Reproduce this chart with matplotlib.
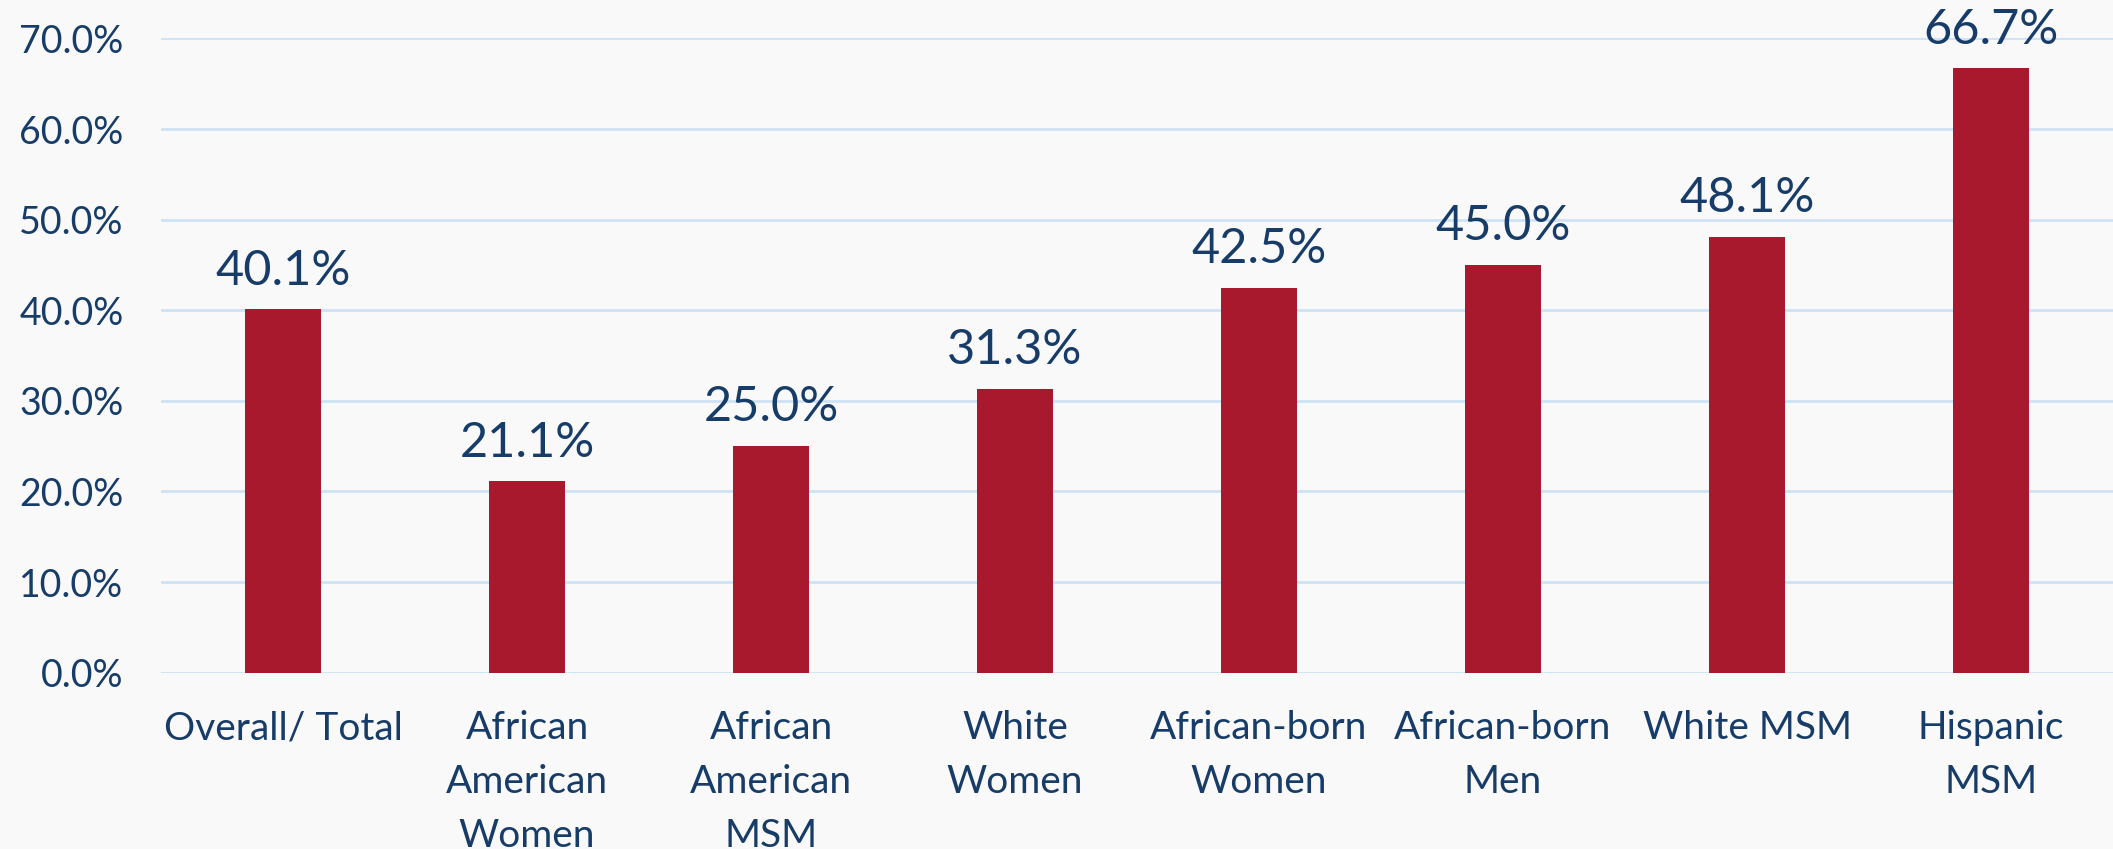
import numpy as np
import matplotlib.pyplot as plt

categorias = ["Overall/ Total", "African\nAmerican\nWomen", "African\nAmerican\nMSM",
              "White\nWomen", "African-born\nWomen", "African-born\nMen",
              "White MSM", "Hispanic\nMSM"]
valores = [40.1, 21.1, 25.0, 31.3, 42.5, 45.0, 48.1, 66.7]
yticks = [0, 10, 20, 30, 40, 50, 60, 70]

texto = "#173c68"
fondo = "#f9f9fa"

plt.rcParams['font.family'] = ['Lato', 'DejaVu Sans']

fig = plt.figure(figsize=(21.13, 8.49), dpi=100, facecolor=fondo)
ax = fig.add_axes([0.0762, 0.2077, 0.9238, 0.747])
ax.set_facecolor(fondo)

x = np.arange(len(categorias))
barras = ax.bar(x, valores, width=0.315, color="#a8192e", zorder=3)

for b, v in zip(barras, valores):
    ax.annotate(f"{v:.1f}%", (b.get_x() + b.get_width() / 2, v),
                xytext=(0, 12), textcoords="offset points",
                ha="center", va="bottom", fontsize=35, color=texto,
                annotation_clip=False, zorder=4)

ax.set_xlim(-0.5, len(categorias) - 0.5)
ax.set_ylim(0, 70)
ax.set_yticks(yticks)
ax.set_yticklabels([f"{t:.1f}%" for t in yticks])
ax.set_xticks(x)
ax.set_xticklabels(categorias, linespacing=1.62)
ax.tick_params(axis="y", length=0, pad=27, labelsize=27, labelcolor=texto)
ax.tick_params(axis="x", length=0, pad=27, labelsize=28, labelcolor=texto)
for lbl in ax.get_xticklabels():
    lbl.set_verticalalignment("top")

ax.grid(axis="y", color="#cfe2f5", linewidth=2, zorder=0)
for s in ax.spines.values():
    s.set_visible(False)

fig.savefig("out.png", dpi=100, facecolor=fondo)
